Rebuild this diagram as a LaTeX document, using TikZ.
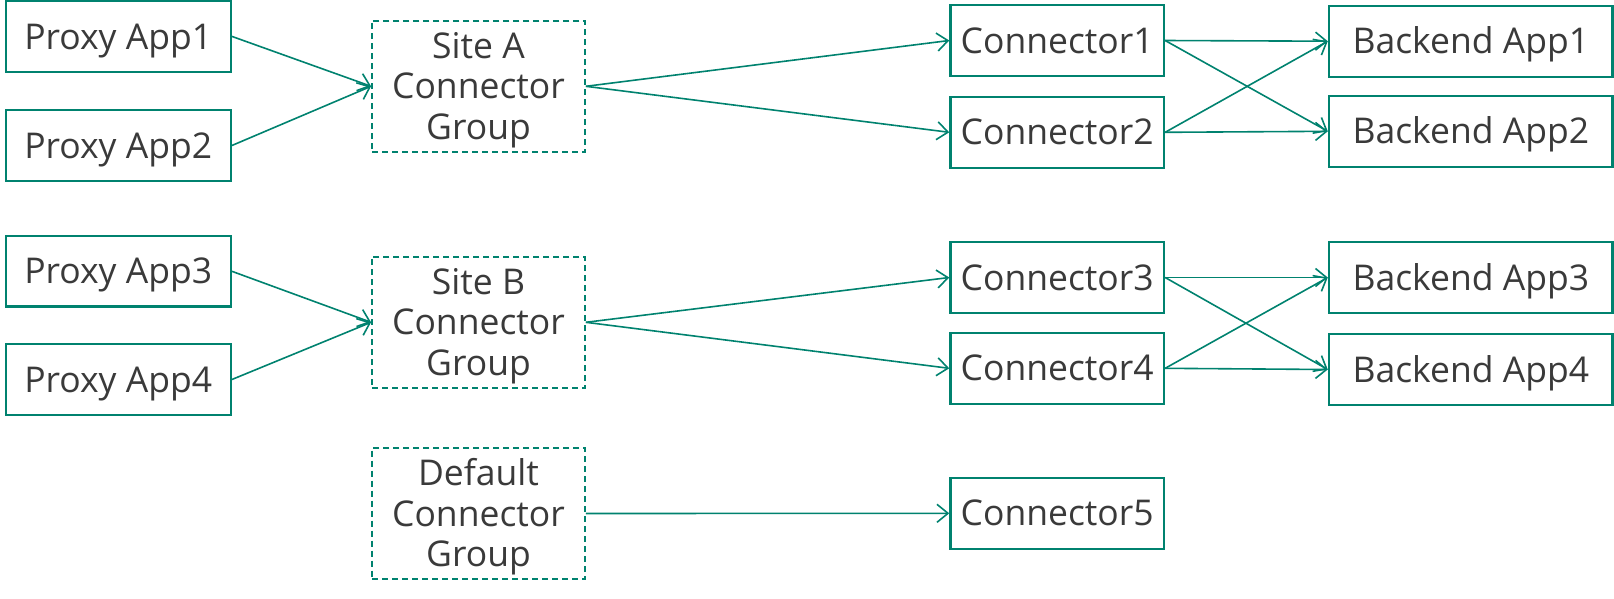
\documentclass[tikz,border=0pt]{standalone}
\usepackage{fontspec}
\setmainfont{Open Sans}
\usetikzlibrary{arrows.meta}
\definecolor{teal1}{HTML}{00826F}
\definecolor{txt}{HTML}{3A3A3A}
\begin{document}
\begin{tikzpicture}[x=1pt,y=-1pt,
  box/.style={draw=teal1,line width=2.4pt,inner sep=0pt,text=txt,
    font=\fontsize{35.5}{40.5}\selectfont,align=center},
  single/.style={box,text height=25.3pt,text depth=0pt},
  proxybox/.style={single,minimum width=225pt,minimum height=70.7pt},
  groupbox/.style={box,text height=106.3pt,text depth=0pt,dashed,dash pattern=on 6pt off 4pt,line width=1.8pt,minimum width=213pt,minimum height=131.3pt},
  connbox/.style={single,minimum width=213.5pt,minimum height=71pt},
  backbox/.style={single,minimum width=283.7pt,minimum height=71pt},
  link/.style={draw=teal1,line width=1.6pt,-{Straight Barb[length=11pt,width=18pt,line width=1.6pt]}}
]
\useasboundingbox (0,0) rectangle (1614,598);
\node[proxybox] (p1) at (118.2,36.4) {Proxy App1};
\node[proxybox] (p2) at (118.2,145.5) {Proxy App2};
\node[proxybox] (p3) at (118.2,271.3) {Proxy App3};
\node[proxybox] (p4) at (118.2,379.5) {Proxy App4};
\node[groupbox] (ga) at (478.5,86.3) {Site A\\Connector\\Group};
\node[groupbox] (gb) at (478.5,322.3) {Site B\\Connector\\Group};
\node[groupbox] (gd) at (478.5,513.5) {Default\\Connector\\Group};
\node[connbox] (c1) at (1057.2,40.5) {Connector1};
\node[connbox] (c2) at (1057.2,132.3) {Connector2};
\node[connbox] (c3) at (1057.2,277.5) {Connector3};
\node[connbox] (c4) at (1057.2,368.3) {Connector4};
\node[connbox] (c5) at (1057.2,513.3) {Connector5};
\node[backbox] (b1) at (1470.8,41.2) {Backend App1};
\node[backbox] (b2) at (1470.8,131.3) {Backend App2};
\node[backbox] (b3) at (1470.8,277.5) {Backend App3};
\node[backbox] (b4) at (1470.8,369.5) {Backend App4};
\draw[link] (p1.east) -- (ga.west);
\draw[link] (p2.east) -- (ga.west);
\draw[link] (p3.east) -- (gb.west);
\draw[link] (p4.east) -- (gb.west);
\draw[link] (ga.east) -- (c1.west);
\draw[link] (ga.east) -- (c2.west);
\draw[link] (gb.east) -- (c3.west);
\draw[link] (gb.east) -- (c4.west);
\draw[link] (gd.east) -- (c5.west);
\draw[link] (c1.east) -- (b1.west);
\draw[link] (c1.east) -- (b2.west);
\draw[link] (c2.east) -- (b1.west);
\draw[link] (c2.east) -- (b2.west);
\draw[link] (c3.east) -- (b3.west);
\draw[link] (c3.east) -- (b4.west);
\draw[link] (c4.east) -- (b3.west);
\draw[link] (c4.east) -- (b4.west);
\end{tikzpicture}
\end{document}
